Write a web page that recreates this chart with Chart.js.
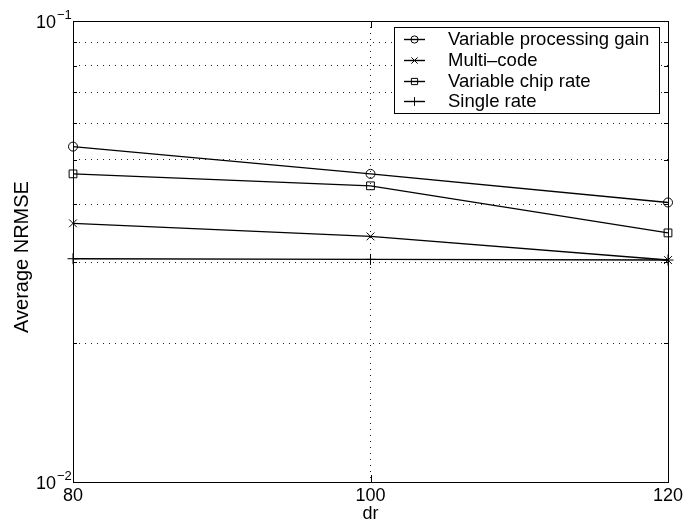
<!DOCTYPE html>
<html>
<head>
<meta charset="utf-8">
<script src="https://cdn.jsdelivr.net/npm/chart.js@4.4.1/dist/chart.umd.min.js"></script>
<style>
  html, body { margin: 0; padding: 0; background: #fff; }
  #wrap { width: 692px; height: 525px; }
</style>
</head>
<body>
<div id="wrap"><canvas id="nrmseChart" width="692" height="525"></canvas></div>
<script>
// 横軸 dr の値
const drValues = [80, 100, 120];

// 系列ごとの Average NRMSE
const seriesLabels = ['Variable processing gain', 'Multi\u2013code', 'Variable chip rate', 'Single rate'];
const varGainNrmse = [0.0534, 0.0466, 0.0404];
const multiCodeNrmse = [0.0364, 0.0341, 0.0303];
const varChipNrmse = [0.0466, 0.0439, 0.0347];
const singleRateNrmse = [0.0305, 0.0304, 0.0303];

// 目盛り
const xTickValues = [80, 100, 120];
const yTickValues = [0.01, 0.02, 0.03, 0.04, 0.05, 0.06, 0.07, 0.08, 0.09, 0.1];
const yLabelValues = [0.01, 0.1];
const yLabelExponents = ['\u22122', '\u22121'];

const FONT = 'Helvetica, "Liberation Sans", Arial, sans-serif';

function toPoints(values) {
    return drValues.map((x, i) => ({ x: x, y: values[i] }));
}

function lineDataset(label, values, style, radius) {
    return {
        label: label,
        data: toPoints(values),
        borderColor: '#000',
        borderWidth: 1.4,
        pointStyle: style,
        pointRadius: radius,
        pointBorderColor: '#000',
        pointBackgroundColor: 'rgba(0,0,0,0)',
        pointBorderWidth: 1,
        tension: 0,
        clip: false
    };
}

// 枠・内向き目盛り・y軸ラベル・凡例を描くプラグイン
const matlabAxes = {
    id: 'matlabAxes',
    afterDraw(chart) {
        const { ctx, chartArea: a, scales: { x, y } } = chart;
        ctx.save();
        ctx.strokeStyle = '#000';
        ctx.lineWidth = 1;
        ctx.setLineDash([]);
        ctx.strokeRect(a.left + 0.5, a.top + 0.5, a.right - a.left, a.bottom - a.top);

        // 内向きの目盛り線
        ctx.beginPath();
        yTickValues.slice(1, -1).forEach(v => {
            const py = Math.round(y.getPixelForValue(v)) + 0.5;
            ctx.moveTo(a.left, py); ctx.lineTo(a.left + 4, py);
            ctx.moveTo(a.right, py); ctx.lineTo(a.right - 4, py);
        });
        xTickValues.slice(1, -1).forEach(v => {
            const px = Math.round(x.getPixelForValue(v)) + 0.5;
            ctx.moveTo(px, a.bottom); ctx.lineTo(px, a.bottom - 7);
            ctx.moveTo(px, a.top); ctx.lineTo(px, a.top + 7);
        });
        ctx.stroke();

        // y軸の 10^n ラベル
        ctx.fillStyle = '#000';
        yLabelValues.forEach((v, i) => {
            const py = y.getPixelForValue(v);
            ctx.font = '18px ' + FONT;
            ctx.textAlign = 'right';
            ctx.textBaseline = 'middle';
            ctx.fillText('10', 56, py + 2);
            ctx.font = '13px ' + FONT;
            ctx.textAlign = 'left';
            ctx.fillText(yLabelExponents[i], 57, py - 6);
        });

        // y軸タイトル
        ctx.save();
        ctx.translate(22, 257);
        ctx.rotate(-Math.PI / 2);
        ctx.font = '20px ' + FONT;
        ctx.textAlign = 'center';
        ctx.textBaseline = 'middle';
        ctx.fillText('Average NRMSE', 0, 0);
        ctx.restore();

        // 凡例
        const box = { left: 394.5, top: 27.5, right: 659.5, bottom: 113.5 };
        ctx.fillStyle = '#fff';
        ctx.fillRect(box.left, box.top, box.right - box.left, box.bottom - box.top);
        ctx.strokeRect(box.left, box.top, box.right - box.left, box.bottom - box.top);
        const rowY = [39, 60, 81, 101];
        chart.data.datasets.forEach((ds, i) => {
            const ry = rowY[i];
            ctx.strokeStyle = '#000';
            ctx.lineWidth = 1.4;
            ctx.beginPath();
            ctx.moveTo(404, ry + 0.5);
            ctx.lineTo(425, ry + 0.5);
            ctx.stroke();
            ctx.lineWidth = 1;
            ctx.fillStyle = 'rgba(0,0,0,0)';
            Chart.helpers.drawPoint(ctx, { pointStyle: ds.pointStyle, radius: ds.pointRadius * 0.8, rotation: 0, borderWidth: 1 }, 414.5, ry + 0.5);
            ctx.fillStyle = '#000';
            ctx.font = '18.5px ' + FONT;
            ctx.textAlign = 'left';
            ctx.textBaseline = 'middle';
            ctx.fillText(ds.label, 448, ry + 1);
        });
        ctx.restore();
    }
};

new Chart(document.getElementById('nrmseChart'), {
    type: 'line',
    data: {
        datasets: [
            lineDataset(seriesLabels[0], varGainNrmse, 'circle', 4.5),
            lineDataset(seriesLabels[1], multiCodeNrmse, 'crossRot', 5.5),
            lineDataset(seriesLabels[2], varChipNrmse, 'rect', 5.5),
            lineDataset(seriesLabels[3], singleRateNrmse, 'cross', 5.5)
        ]
    },
    options: {
        responsive: false,
        animation: false,
        layout: { padding: { top: 21, right: 24, left: 0, bottom: 0 } },
        plugins: {
            legend: { display: false },
            tooltip: { enabled: false }
        },
        scales: {
            x: {
                type: 'linear',
                min: 80,
                max: 120,
                afterBuildTicks: s => { s.ticks = xTickValues.map(v => ({ value: v })); },
                afterFit: s => { s.height = 43; },
                grid: {
                    drawTicks: false,
                    lineWidth: 1,
                    color: c => (c.tick && c.tick.value === 100) ? '#222' : 'rgba(0,0,0,0)'
                },
                border: { display: false, dash: [1, 5] },
                ticks: {
                    color: '#000',
                    font: { family: FONT, size: 18 },
                    padding: 3,
                    maxRotation: 0,
                    autoSkip: false
                },
                title: {
                    display: true,
                    text: 'dr',
                    color: '#000',
                    font: { family: FONT, size: 18 },
                    padding: { top: 0, bottom: 0 }
                }
            },
            y: {
                type: 'logarithmic',
                min: 0.01,
                max: 0.1,
                afterBuildTicks: s => { s.ticks = yTickValues.map(v => ({ value: v })); },
                afterFit: s => { s.width = 73; },
                grid: {
                    drawTicks: false,
                    lineWidth: 1,
                    color: c => (c.tick && (c.tick.value <= 0.01 || c.tick.value >= 0.1)) ? 'rgba(0,0,0,0)' : '#222'
                },
                border: { display: false, dash: [1, 5] },
                ticks: { display: false }
            }
        }
    },
    plugins: [matlabAxes]
});
</script>
</body>
</html>
